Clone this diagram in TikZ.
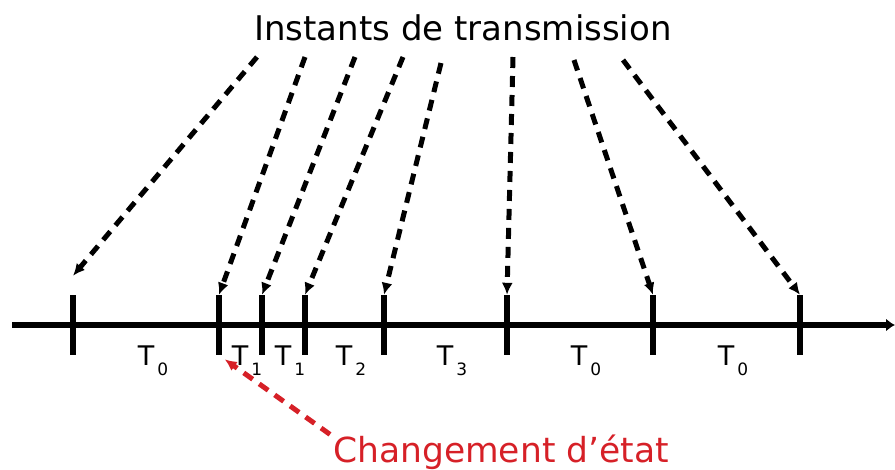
\documentclass[tikz,border=0pt]{standalone}
\usepackage{fontspec}
\setmainfont{DejaVu Sans}
\usetikzlibrary{arrows.meta,positioning}
\definecolor{chgred}{RGB}{214,32,39}
\newcommand{\Tsub}[1]{T\kern3pt\raisebox{-10pt}{\fontsize{17}{17}\selectfont #1}}

\begin{document}
\begin{tikzpicture}[
  x=1pt, y=-1pt,
  tick/.style={rectangle, fill=black, inner sep=0pt, minimum width=6pt, minimum height=60pt},
  per/.style={font=\fontsize{27}{30}\selectfont, inner sep=0pt, anchor=base},
  dotarr/.style={-{Latex[length=12pt,width=11pt]}, line width=5pt, dash pattern=on 11pt off 8pt},
  redarr/.style={dotarr, draw=chgred, chgred}
]
\useasboundingbox (0,0) rectangle (895,469);
% --- Axe ---
\draw[line width=6pt, -{Latex[length=9pt,width=13pt]}] (12,325) -- (895,325);
\foreach \n/\x in {1/73, 2/219, 3/262, 4/305, 5/384, 6/507, 7/653, 8/800}
  \node[tick] (t\n) at (\x,325) {};
% --- Périodes ---
\node[per] (p1) at (153,365) {\Tsub{0}};
\node[per] (p2) at (247,365) {\Tsub{1}};
\node[per] (p3) at (290,365) {\Tsub{1}};
\node[per] (p4) at (351,365) {\Tsub{2}};
\node[per] (p5) at (452,365) {\Tsub{3}};
\node[per] (p6) at (586,365) {\Tsub{0}};
\node[per] (p7) at (733,365) {\Tsub{0}};
% --- Instants de transmission ---
\node[font=\fontsize{34}{40}\selectfont, inner sep=0pt] (titre) at (463,28) {Instants de transmission};
\foreach \n/\x/\y in {1/257/57, 2/305/57, 3/355/57, 4/403/57, 5/441/63, 6/513/57, 7/574/60, 8/623/60}
  \coordinate (s\n) at (\x,\y);
\draw[dotarr] (s1) -- ([yshift=19pt]t1.north);
\foreach \n in {2,...,8}
  \draw[dotarr] (s\n) -- (t\n.north);
% --- Changement d'état ---
\node[font=\fontsize{34.5}{40}\selectfont, text=chgred, inner sep=0pt] (chg) at (501,452) {Changement d’état};
\draw[redarr, shorten >=7pt] ([xshift=-3pt]chg.north west) -- (t2.south);
\end{tikzpicture}
\end{document}
